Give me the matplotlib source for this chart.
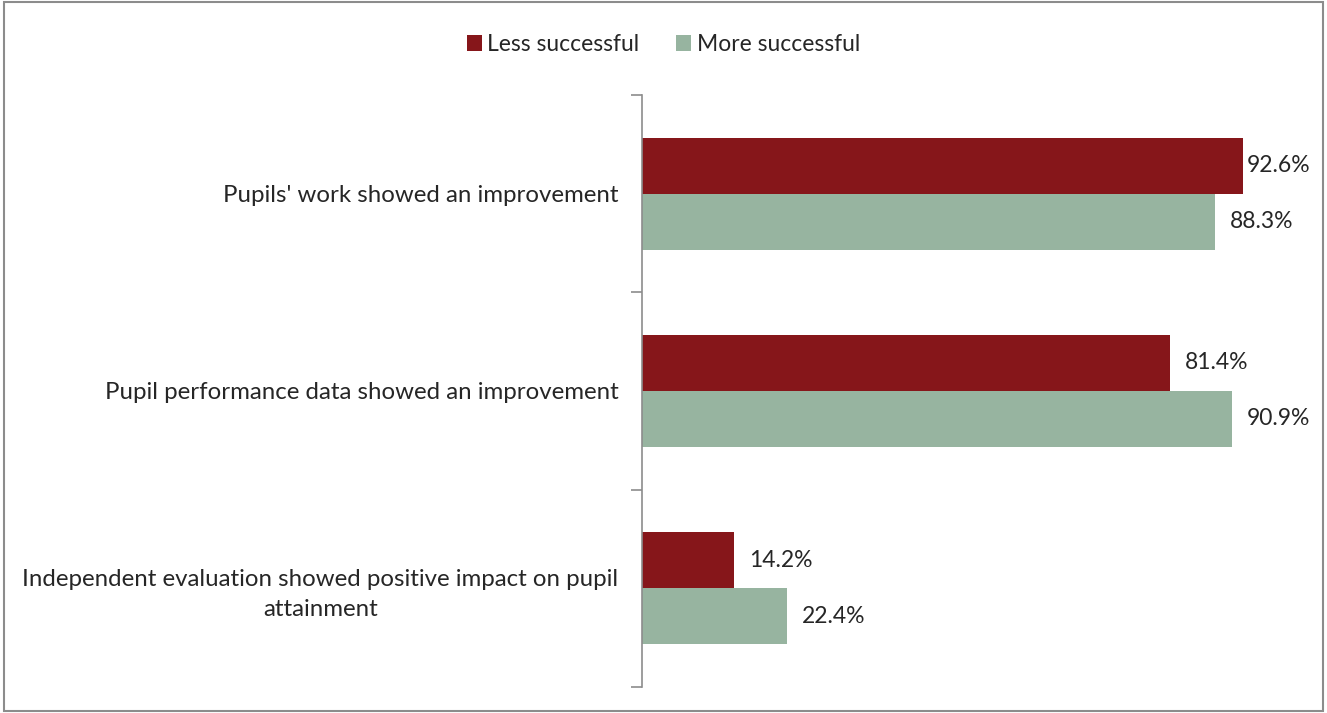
import matplotlib.pyplot as plt
import numpy as np
from matplotlib.patches import Rectangle

plt.rcParams["font.family"] = ["Lato", "DejaVu Sans"]

categories = [
    "Pupils' work showed an improvement",
    "Pupil performance data showed an improvement",
    "Independent evaluation showed positive impact on pupil\nattainment",
]
less_successful = [92.6, 81.4, 14.2]
more_successful = [88.3, 90.9, 22.4]

red = "#86161A"
green = "#97B4A0"
text_color = "#262626"

fig = plt.figure(figsize=(13.27, 7.13), dpi=100)
ax = fig.add_axes([0.4838, 0.0365, 0.4891, 0.8303])

y = np.arange(len(categories))
h = 0.284
ax.barh(y - h / 2, less_successful, height=h, color=red, label="Less successful")
ax.barh(y + h / 2, more_successful, height=h, color=green, label="More successful")

# labels sit a little right of the bar end, but stay inside the plot area
for yi, v in zip(y, less_successful):
    ax.text(min(v + 2.3, 93.2), yi - h / 2, f"{v}%", va="center", ha="left",
            fontsize=16.5, color=text_color)
for yi, v in zip(y, more_successful):
    ax.text(min(v + 2.3, 93.2), yi + h / 2, f"{v}%", va="center", ha="left",
            fontsize=16.5, color=text_color)

ax.set_xlim(0, 100)
ax.set_ylim(len(categories) - 0.5, -0.5)
ax.set_yticks(y)
ax.set_yticklabels(categories, fontsize=17.3, color=text_color,
                   multialignment="center", linespacing=1.5)
ax.tick_params(axis="y", which="major", length=0, pad=17)
ax.set_yticks(np.arange(len(categories) + 1) - 0.5, minor=True)
ax.tick_params(axis="y", which="minor", length=8, color="#8c8c8c", width=1.2)
ax.set_xticks([])

for s in ["top", "right", "bottom"]:
    ax.spines[s].set_visible(False)
ax.spines["left"].set_color("#8c8c8c")
ax.spines["left"].set_linewidth(1.2)

fig.legend(loc="upper center", bbox_to_anchor=(0.5, 0.981), ncol=2, frameon=False,
           fontsize=16.5, handlelength=0.65, handleheight=0.65, handletextpad=0.25,
           columnspacing=1.6, labelcolor=text_color)

fig.patches.append(Rectangle((0.003, 0.003), 0.994, 0.994, transform=fig.transFigure,
                             fill=False, edgecolor="#8c8c8c", linewidth=1.5))

fig.savefig("out.png", dpi=100)
